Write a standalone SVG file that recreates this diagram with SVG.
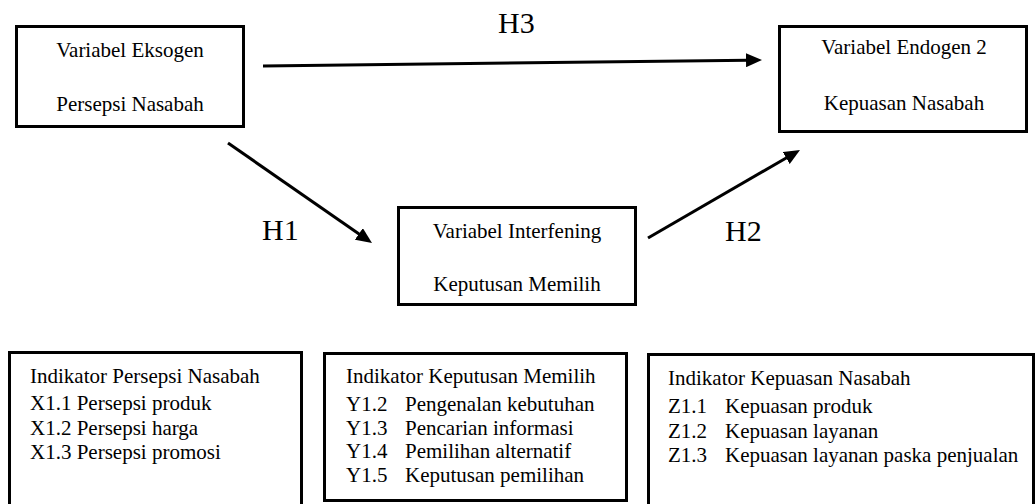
<svg xmlns="http://www.w3.org/2000/svg" width="1036" height="504" viewBox="0 0 1036 504">
<style>
.box{fill:#fff;stroke:#000;stroke-width:3}
.edge{stroke:#000;stroke-width:3;fill:none;marker-end:url(#ah)}
</style>
<defs>
<marker id="ah" markerUnits="userSpaceOnUse" markerWidth="16" markerHeight="14" refX="2" refY="7" orient="auto">
<path d="M0,0 L16,7 L0,14 z" fill="#000"/>
</marker>
</defs>
<rect width="1036" height="504" fill="#fff"/>
<g font-family="'Liberation Serif', serif" fill="#000">
<g id="n-eksogen" font-size="21" text-anchor="middle">
<rect class="box" x="16.5" y="26.5" width="227" height="100"/>
<text x="130" y="57">Variabel Eksogen</text>
<text x="130" y="111">Persepsi Nasabah</text>
</g>
<g id="n-endogen" font-size="21" text-anchor="middle">
<rect class="box" x="779.5" y="26.5" width="247" height="105"/>
<text x="904" y="54">Variabel Endogen 2</text>
<text x="904" y="110">Kepuasan Nasabah</text>
</g>
<g id="n-interfening" font-size="21" text-anchor="middle">
<rect class="box" x="398.5" y="207.5" width="237" height="97"/>
<text x="517" y="238">Variabel Interfening</text>
<text x="517" y="291">Keputusan Memilih</text>
</g>
<g id="n-ind-persepsi" font-size="21">
<rect class="box" x="9.5" y="352.5" width="292" height="170"/>
<text x="30" y="383">Indikator Persepsi Nasabah</text>
<text x="30" y="410">X1.1 Persepsi produk</text>
<text x="30" y="435">X1.2 Persepsi harga</text>
<text x="30" y="459">X1.3 Persepsi promosi</text>
</g>
<g id="n-ind-keputusan" font-size="21">
<rect class="box" x="324.5" y="353.5" width="302" height="147"/>
<text x="346" y="383">Indikator Keputusan Memilih</text>
<text x="346" y="411">Y1.2</text><text x="405" y="411">Pengenalan kebutuhan</text>
<text x="346" y="435">Y1.3</text><text x="405" y="435">Pencarian informasi</text>
<text x="346" y="458">Y1.4</text><text x="405" y="458">Pemilihan alternatif</text>
<text x="346" y="482">Y1.5</text><text x="405" y="482">Keputusan pemilihan</text>
</g>
<g id="n-ind-kepuasan" font-size="21">
<rect class="box" x="648.5" y="354.5" width="385" height="170"/>
<text x="668" y="385">Indikator Kepuasan Nasabah</text>
<text x="668" y="413">Z1.1</text><text x="725" y="413">Kepuasan produk</text>
<text x="668" y="438">Z1.2</text><text x="725" y="438">Kepuasan layanan</text>
<text x="668" y="462">Z1.3</text><text x="725" y="462">Kepuasan layanan paska penjualan</text>
</g>
<g id="connectors" font-size="30">
<line class="edge" x1="263" y1="66" x2="748" y2="60.2"/>
<line class="edge" x1="228" y1="143" x2="360.5" y2="235"/>
<line class="edge" x1="648" y1="238" x2="787.9" y2="157"/>
<text x="498" y="33">H3</text>
<text x="262" y="240">H1</text>
<text x="725" y="241">H2</text>
</g>
</g>
</svg>
